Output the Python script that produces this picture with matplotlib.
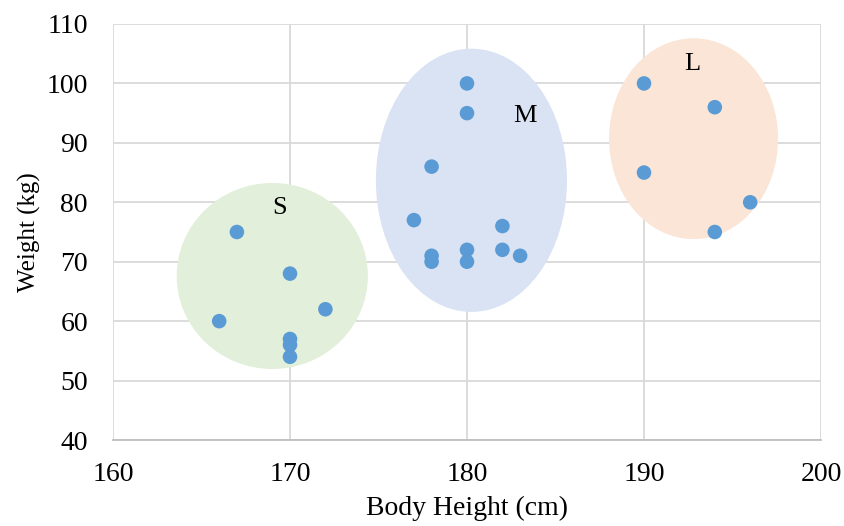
import matplotlib
matplotlib.use("Agg")
import matplotlib.pyplot as plt
from matplotlib.patches import Ellipse

heights = [167, 166, 170, 170, 170, 170, 172,
           178, 177, 178, 178, 180, 180, 180, 180, 182, 182, 183,
           190, 190, 194, 194, 196]
weights = [75, 60, 68, 57, 56, 54, 62,
           86, 77, 71, 70, 100, 95, 72, 70, 76, 72, 71,
           100, 85, 96, 75, 80]

group_labels = ["S", "M", "L"]
group_centers = [(169.0, 67.6), (180.25, 83.7), (192.8, 90.7)]
group_sizes = [(10.8, 31.3), (10.8, 44.3), (9.55, 33.8)]
group_colors = ["#E2EFDA", "#DAE3F3", "#FBE5D6"]
label_pos = [(169.4, 79.0), (183.3, 94.5), (192.7, 103.3)]

plt.rcParams['font.family'] = ['Liberation Serif', 'DejaVu Serif']

fig = plt.figure(figsize=(8.45, 5.26), dpi=100)
ax = fig.add_axes([113/845, 1-440/526, (821-113)/845, (440-24)/526])

for (cx, cy), (w, h), c in zip(group_centers, group_sizes, group_colors):
    ax.add_patch(Ellipse((cx, cy), w, h, facecolor=c, edgecolor='none', zorder=1))

ax.scatter(heights, weights, s=110, color="#5B9BD5", zorder=3, edgecolors='none')

for lab, (x, y) in zip(group_labels, label_pos):
    ax.text(x, y, lab, fontsize=19, ha='center', va='center', zorder=4)

ax.set_xlim(160, 200)
ax.set_ylim(40, 110)
ax.set_xticks(range(160, 201, 10))
ax.set_yticks(range(40, 111, 10))
ax.grid(True, color='#D9D9D9', linewidth=1.3, zorder=0)
ax.set_axisbelow(True)
for s in ax.spines.values():
    s.set_visible(False)
ax.spines['bottom'].set_visible(True)
ax.spines['bottom'].set_color('#BFBFBF')
ax.spines['bottom'].set_linewidth(1.3)
ax.tick_params(length=0, labelsize=20)
ax.tick_params(axis='x', pad=16)
ax.tick_params(axis='y', pad=18)
ax.set_xlabel("Body Height (cm)", fontsize=20, labelpad=6)
ax.set_ylabel("Weight (kg)", fontsize=18, labelpad=4)

fig.savefig("out.png", dpi=100)
